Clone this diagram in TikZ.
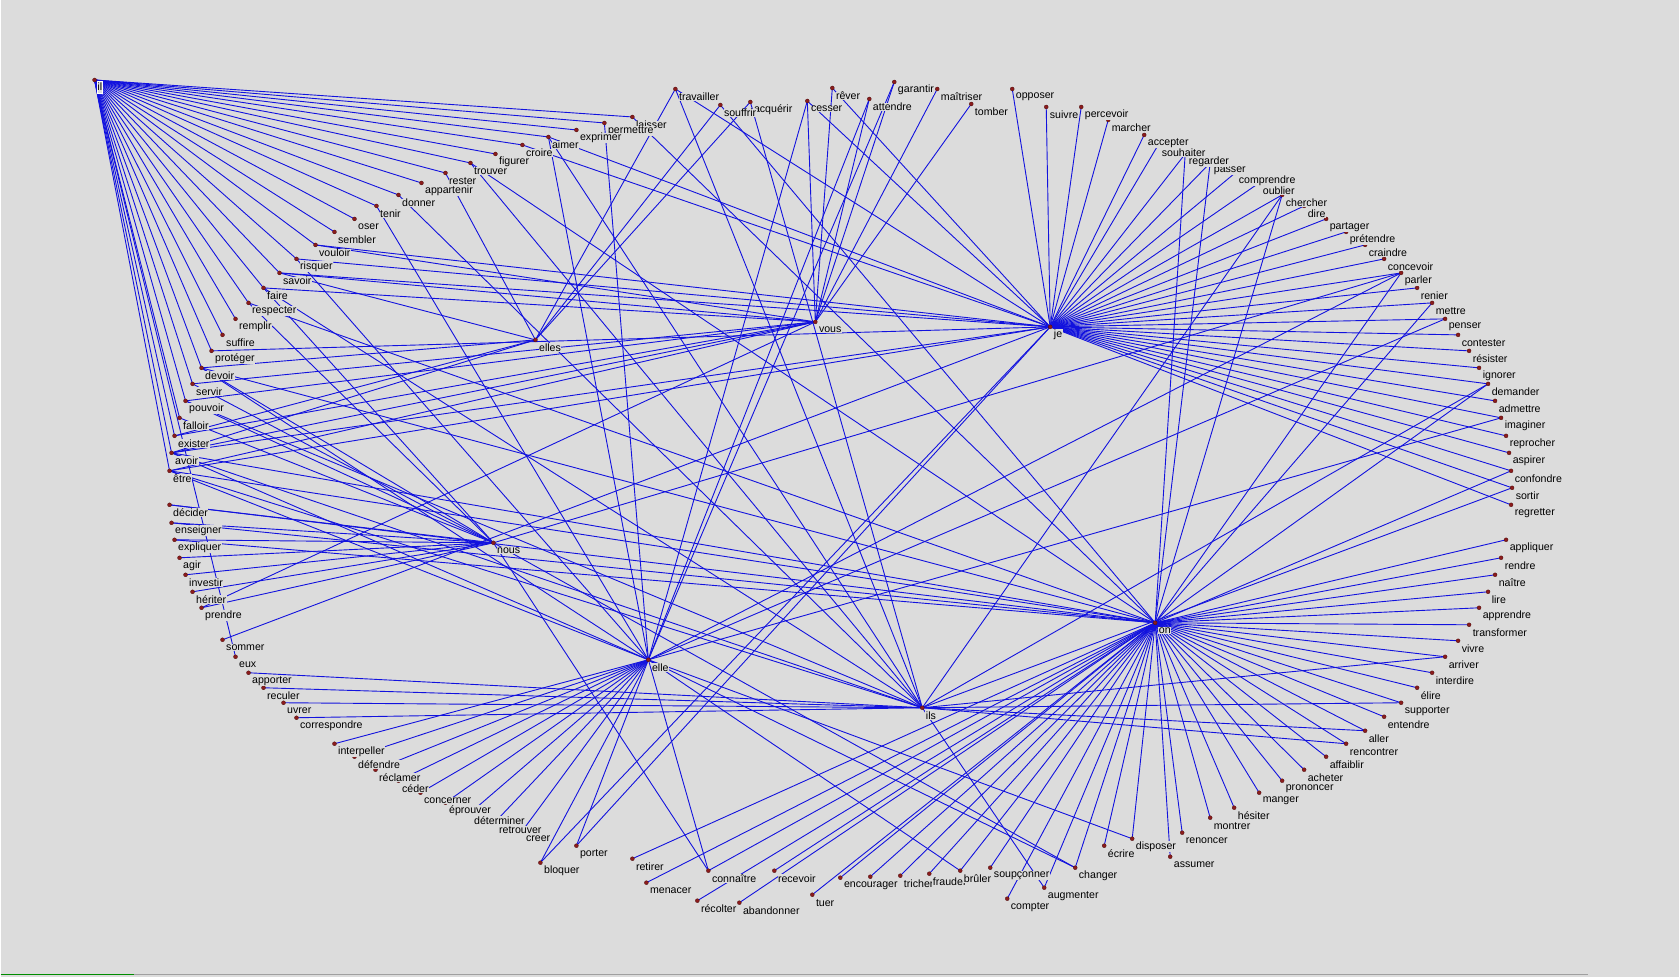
\documentclass[tikz,border=0pt]{standalone}
\usepackage{fontspec}
\setmainfont{Liberation Sans}
\usetikzlibrary{positioning}

\definecolor{bggray}{RGB}{220,220,220}
\definecolor{edgeblue}{RGB}{18,18,222}
\definecolor{dotred}{RGB}{140,28,28}

\tikzset{
	edge/.style={edgeblue, line width=0.9pt},
	vdot/.style={circle, fill=dotred, draw=dotred!55!black, line width=0.3pt, inner sep=0pt, minimum size=4pt},
	lbl/.style={anchor=west, fill=bggray, inner sep=0.5pt, text=black, font=\fontsize{10.6}{12}\selectfont}
}

% pronouns
\def\pronoms{il/94/80/, elles/535/340/elles, vous/815/322/vous, je/1050/327/je,
	nous/493/543/nous, elle/648/660/elle, ils/922/708/ils, on/1155/623/on}

% verbs round the ellipse
\def\verbes{laisser/632/117/laisser, permettre/604/123/permettre, exprimer/576/130/exprimer,
	aimer/548/137/aimer, croire/522/145/croire, figurer/495/154/figurer, trouver/470/163/trouver,
	rester/445/173/rester, appartenir/421/183/appartenir, donner/398/195/donner, tenir/376/206/tenir,
	oser/354/219/oser, sembler/334/232/sembler, vouloir/315/245/vouloir, risquer/296/259/risquer,
	savoir/279/273/savoir, faire/263/288/faire, respecter/248/303/respecter, remplir/235/319/remplir,
	suffire/222/335/suffire, proteger/211/351/protéger, devoir/201/368/devoir, servir/192/384/servir,
	pouvoir/185/401/pouvoir, falloir/179/418/falloir, exister/174/436/exister, avoir/171/453/avoir,
	etre/169/471/être, decider/169/505/décider, enseigner/171/523/enseigner, expliquer/174/540/expliquer,
	agir/179/558/agir, investir/185/575/investir, heriter/192/592/hériter, prendre/201/608/prendre,
	sommer/222/640/sommer, eux/235/657/eux, apporter/248/673/apporter, reculer/263/688/reculer,
	uvrer/283/703/uvrer, correspondre/296/718/correspondre, interpeller/334/744/interpeller,
	defendre/354/757/défendre, reclamer/375/770/réclamer, ceder/398/781/céder, concerner/420/793/concerner,
	eprouver/445/803/éprouver, determiner/470/813/déterminer, retrouver/495/822/retrouver, creer/522/831/creer,
	bloquer/540/863/bloquer, porter/576/846/porter, retirer/632/859/retirer, menacer/646/883/menacer,
	connaitre/708/871/connaître, recolter/697/901/récolter, abandonner/739/903/abandonner,
	recevoir/774/871/recevoir, tuer/812/895/tuer, encourager/840/878/encourager, xdot/870/877/,
	tricher/900/876/tricher, frauder/929/874/frauder, bruler/960/871/brûler, soupconner/990/868/soupçonner,
	compter/1007/899/compter, augmenter/1044/888/augmenter, changer/1075/868/changer, ecrire/1104/846/écrire,
	disposer/1132/839/disposer, assumer/1170/857/assumer, renoncer/1182/833/renoncer, montrer/1210/818/montrer,
	hesiter/1234/808/hésiter, manger/1259/793/manger, prononcer/1282/781/prononcer, acheter/1304/770/acheter,
	affaiblir/1326/757/affaiblir, rencontrer/1346/744/rencontrer, aller/1365/731/aller, entendre/1384/717/entendre,
	supporter/1401/703/supporter, elire/1417/688/élire, interdire/1432/673/interdire, arriver/1445/657/arriver,
	vivre/1458/641/vivre, transformer/1469/625/transformer, apprendre/1479/608/apprendre, lire/1488/592/lire,
	naitre/1495/575/naître, rendre/1501/558/rendre, appliquer/1506/540/appliquer, regretter/1511/505/regretter,
	sortir/1512/488/sortir, confondre/1511/471/confondre, aspirer/1509/453/aspirer, reprocher/1506/436/reprocher,
	imaginer/1501/418/imaginer, admettre/1495/401/admettre, demander/1488/384/demander, ignorer/1479/368/ignorer,
	resister/1469/351/résister, contester/1458/335/contester, penser/1445/319/penser, mettre/1432/303/mettre,
	renier/1417/288/renier, parler/1401/273/parler, concevoir/1384/259/concevoir, craindre/1365/245/craindre,
	pretendre/1346/232/prétendre, partager/1326/219/partager, dire/1304/206/dire, chercher/1282/195/chercher,
	oublier/1259/183/oublier, comprendre/1235/173/comprendre, passer/1210/163/passer, regarder/1185/154/regarder,
	souhaiter/1158/145/souhaiter, accepter/1144/135/accepter, marcher/1108/120/marcher, percevoir/1081/107/percevoir,
	suivre/1046/107/suivre, opposer/1012/89/opposer, tomber/971/104/tomber, maitriser/937/89/maîtriser,
	garantir/894/82/garantir, attendre/869/99/attendre, rever/832/88/rêver, cesser/807/101/cesser,
	acquerir/750/102/acquérir, souffrir/720/105/souffrir, travailler/675/89/travailler}

\begin{document}
\begin{tikzpicture}[x=1pt, y=-1pt]

\fill[bggray] (0,0) rectangle (1679,977);
\draw[gray!75, line width=1.2pt] (0,975) -- (1588,975);
\draw[green!55!black, line width=1.2pt] (0,975) -- (133,975);

\foreach \n/\x/\y/\t in \pronoms {\coordinate (\n) at (\x,\y);}
\foreach \n/\x/\y/\t in \verbes {\coordinate (\n) at (\x,\y);}

% ---

\foreach \p/\vs in {
	il/{laisser,permettre,exprimer,aimer,croire,figurer,trouver,rester,appartenir,donner,tenir,oser,
		sembler,vouloir,risquer,savoir,faire,respecter,remplir,suffire,proteger,devoir,servir,pouvoir,
		falloir,exister,avoir,etre,eux},
	je/{opposer,suivre,percevoir,marcher,accepter,souhaiter,regarder,passer,comprendre,oublier,chercher,
		dire,partager,pretendre,craindre,concevoir,parler,renier,mettre,penser,contester,resister,ignorer,
		demander,admettre,imaginer,reprocher,aspirer,confondre,sortir,regretter,aimer,croire,travailler,
		cesser,rever,vouloir,risquer,savoir,proteger,sommer,avoir,etre,porter,bloquer},
	vous/{cesser,rever,attendre,garantir,maitriser,tomber,vouloir,savoir,faire,servir,pouvoir,exister,
		avoir,etre,prendre},
	elles/{travailler,souffrir,acquerir,rester,savoir,avoir,exister,devoir},
	nous/{decider,enseigner,expliquer,agir,investir,heriter,prendre,connaitre,parler,changer,devoir,
		pouvoir,servir,falloir,respecter,faire},
	elle/{interpeller,defendre,reclamer,ceder,concerner,eprouver,determiner,retrouver,creer,bloquer,porter,
		connaitre,aimer,permettre,cesser,attendre,garantir,disposer,changer,bruler,parler,penser,imaginer,
		risquer,tenir,devoir,avoir,etre},
	ils/{apporter,reculer,uvrer,correspondre,supporter,aller,rencontrer,arriver,augmenter,travailler,
		acquerir,aimer,trouver,donner,chercher,demander,sortir,etre,avoir,faire,pouvoir},
	on/{appliquer,rendre,naitre,lire,apprendre,transformer,vivre,arriver,interdire,elire,supporter,entendre,
		aller,rencontrer,affaiblir,acheter,prononcer,manger,hesiter,montrer,renoncer,assumer,disposer,ecrire,
		changer,augmenter,compter,soupconner,bruler,frauder,tricher,encourager,xdot,tuer,recevoir,abandonner,
		recolter,connaitre,menacer,retirer,regarder,passer,chercher,parler,mettre,demander,confondre,souffrir,
		laisser,trouver,respecter,decider,enseigner,expliquer,devoir,avoir,etre}}
{
	\foreach \v in \vs {\draw[edge] (\p) -- (\v);}
}

% ---

\foreach \n/\x/\y/\t in \pronoms {\node[vdot] at (\n) {};}
\foreach \n/\x/\y/\t in \verbes {\node[vdot] at (\n) {};}

\foreach \n/\x/\y/\t in \verbes {\node[lbl] (\n-lbl) at ([shift={(3,8)}]\n) {\t};}
\foreach \n/\x/\y/\t in \pronoms {\node[lbl] (\n-lbl) at ([shift={(3,8)}]\n) {\t};}

\node[lbl, draw=white, line width=0.6pt, inner sep=0.6pt, minimum height=12pt] (il-box) at ([shift={(2,7)}]il) {il};

\end{tikzpicture}
\end{document}
